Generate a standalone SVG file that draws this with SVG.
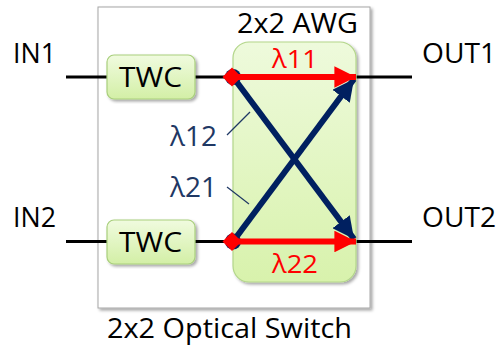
<svg xmlns="http://www.w3.org/2000/svg" width="499" height="352" viewBox="0 0 499 352">
<defs>
<linearGradient id="gTwc" x1="0" y1="0" x2="0" y2="1"><stop offset="0" stop-color="#f0fbdf"/><stop offset="1" stop-color="#d3efa6"/></linearGradient>
<linearGradient id="gAwg" x1="0" y1="0" x2="0" y2="1"><stop offset="0" stop-color="#eefadc"/><stop offset="1" stop-color="#d8f2ac"/></linearGradient>
<filter id="sh" x="-10%" y="-10%" width="120%" height="120%"><feDropShadow dx="2" dy="2" stdDeviation="1.5" flood-color="#000" flood-opacity="0.35"/></filter>
<marker id="aRed" viewBox="0 0 10 10" refX="10" refY="5" markerWidth="3.6" markerHeight="3.6" markerUnits="strokeWidth" orient="auto"><path d="M0,0 L10,5 L0,10 z" fill="#ff0000"/></marker>
<marker id="aNavy" viewBox="0 0 10 10" refX="10" refY="5" markerWidth="3.6" markerHeight="3.6" markerUnits="strokeWidth" orient="auto"><path d="M0,0 L10,5 L0,10 z" fill="#002060"/></marker>
</defs>
<style>
text{font-family:"Open Sans","Liberation Sans",sans-serif;}
.lbl{font-size:28px;fill:#000;}
.twc{fill:url(#gTwc);stroke:#a9cf7c;stroke-width:1.2;}
.wire{stroke:#000;stroke-width:3;fill:none;}
.navy{stroke:#002060;stroke-width:6;fill:none;}
.red{stroke:#ff0000;stroke-width:6;fill:none;}
.lead{stroke:#1f3864;stroke-width:1.2;fill:none;}
</style>
<g id="switch">
<rect x="98" y="7" width="272" height="301" fill="#fff" stroke="#a6a6a6" stroke-width="1" filter="url(#sh)"/>
</g>
<text class="lbl" x="107" y="338" textLength="245" lengthAdjust="spacingAndGlyphs">2x2 Optical Switch</text>
<text class="lbl" x="13" y="63" textLength="43" lengthAdjust="spacingAndGlyphs">IN1</text>
<text class="lbl" x="13" y="227" textLength="43" lengthAdjust="spacingAndGlyphs">IN2</text>
<text class="lbl" x="422" y="63" textLength="74" lengthAdjust="spacingAndGlyphs">OUT1</text>
<text class="lbl" x="422" y="227" textLength="74" lengthAdjust="spacingAndGlyphs">OUT2</text>
<g id="wires">
<line class="wire" x1="66" y1="77" x2="107" y2="77"/>
<line class="wire" x1="195" y1="77" x2="233" y2="77"/>
<line class="wire" x1="356" y1="77" x2="412" y2="77"/>
<line class="wire" x1="66" y1="241.5" x2="107" y2="241.5"/>
<line class="wire" x1="195" y1="241.5" x2="233" y2="241.5"/>
<line class="wire" x1="356" y1="241.5" x2="412" y2="241.5"/>
</g>
<g id="twc1"><rect class="twc" x="107" y="55" width="88" height="44" rx="7" filter="url(#sh)"/><text x="119" y="87" font-size="27" textLength="63" lengthAdjust="spacingAndGlyphs">TWC</text></g>
<g id="twc2"><rect class="twc" x="107" y="220" width="88" height="44" rx="7" filter="url(#sh)"/><text x="119" y="252" font-size="27" textLength="63" lengthAdjust="spacingAndGlyphs">TWC</text></g>
<g id="awg">
<rect x="233" y="42" width="123" height="240" rx="16" fill="url(#gAwg)" stroke="#b3d68a" stroke-width="1.2" filter="url(#sh)"/>
<text x="237" y="33" font-size="28" textLength="121" lengthAdjust="spacingAndGlyphs">2x2 AWG</text>
</g>
<g id="connectors">
<line class="navy" x1="233" y1="77" x2="354" y2="239" marker-end="url(#aNavy)"/>
<line class="navy" x1="233" y1="241.5" x2="354" y2="79" marker-end="url(#aNavy)"/>
<circle cx="233" cy="77" r="8" fill="#002060"/>
<circle cx="233" cy="241.5" r="8" fill="#002060"/>
<line class="red" x1="233" y1="77" x2="356" y2="77" marker-end="url(#aRed)"/>
<line class="red" x1="233" y1="241.5" x2="356" y2="241.5" marker-end="url(#aRed)"/>
<path d="M232,67.5 L241.5,77 L232,86.5 L222.5,77 z" fill="#ff0000"/>
<path d="M232,232 L241.5,241.5 L232,251 L222.5,241.5 z" fill="#ff0000"/>
<line class="lead" x1="227" y1="135" x2="250" y2="112"/>
<line class="lead" x1="227" y1="187" x2="249" y2="204"/>
</g>
<text x="272" y="68" font-size="25" fill="#ff0000" textLength="46" lengthAdjust="spacingAndGlyphs">λ11</text>
<text x="272" y="273" font-size="26" fill="#ff0000" textLength="46" lengthAdjust="spacingAndGlyphs">λ22</text>
<text x="170" y="146" font-size="28" fill="#1f3864" textLength="47" lengthAdjust="spacingAndGlyphs">λ12</text>
<text x="170" y="197" font-size="28" fill="#1f3864" textLength="47" lengthAdjust="spacingAndGlyphs">λ21</text>
</svg>
